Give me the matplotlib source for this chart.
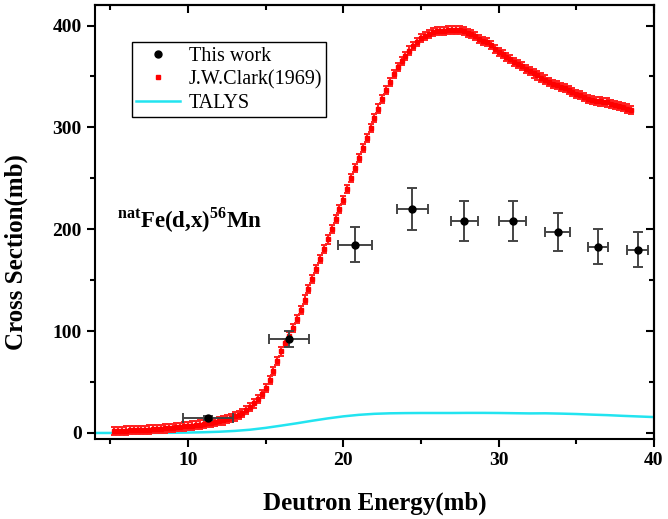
import matplotlib

matplotlib.use("Agg")
import matplotlib.pyplot as plt
from matplotlib.lines import Line2D
from matplotlib.ticker import MultipleLocator

plt.rcParams["font.family"] = ["Liberation Serif", "DejaVu Serif"]
plt.rcParams["mathtext.fontset"] = "custom"
plt.rcParams["mathtext.rm"] = "Liberation Serif:bold"
plt.rcParams["mathtext.bf"] = "Liberation Serif:bold"

# This work: measured cross sections
work_energy = [11.3, 16.5, 20.75, 24.45, 27.8, 30.9, 33.8, 36.4, 38.95]
work_energy_err = [1.6, 1.3, 1.1, 1.0, 0.9, 0.85, 0.8, 0.67, 0.68]
work_xs = [15, 92, 185, 220, 208, 208, 197, 183, 180]
work_xs_err = [2, 8, 17.5, 20.5, 19.5, 19.5, 18.5, 17.5, 17.5]

# J.W. Clark (1969)
clark_energy = [
    5.25, 5.50, 5.75, 6.00, 6.25, 6.50, 6.75, 7.00, 7.25, 7.50, 7.75, 8.00,
    8.25, 8.50, 8.75, 9.00, 9.25, 9.50, 9.75, 10.00, 10.25, 10.50, 10.75, 11.00,
    11.25, 11.50, 11.75, 12.00, 12.25, 12.50, 12.75, 13.00, 13.25, 13.50, 13.75, 14.00,
    14.25, 14.50, 14.75, 15.00, 15.25, 15.50, 15.75, 16.00, 16.25, 16.50, 16.75, 17.00,
    17.25, 17.50, 17.75, 18.00, 18.25, 18.50, 18.75, 19.00, 19.25, 19.50, 19.75, 20.00,
    20.25, 20.50, 20.75, 21.00, 21.25, 21.50, 21.75, 22.00, 22.25, 22.50, 22.75, 23.00,
    23.25, 23.50, 23.75, 24.00, 24.25, 24.50, 24.75, 25.00, 25.25, 25.50, 25.75, 26.00,
    26.25, 26.50, 26.75, 27.00, 27.25, 27.50, 27.75, 28.00, 28.25, 28.50, 28.75, 29.00,
    29.25, 29.50, 29.75, 30.00, 30.25, 30.50, 30.75, 31.00, 31.25, 31.50, 31.75, 32.00,
    32.25, 32.50, 32.75, 33.00, 33.25, 33.50, 33.75, 34.00, 34.25, 34.50, 34.75, 35.00,
    35.25, 35.50, 35.75, 36.00, 36.25, 36.50, 36.75, 37.00, 37.25, 37.50, 37.75, 38.00,
    38.25, 38.50,
]
clark_xs = [
    2.0, 2.1, 2.2, 2.4, 2.5, 2.7, 2.8, 3.0, 3.2, 3.4, 3.6, 3.8,
    4.1, 4.4, 4.7, 5.0, 5.5, 6.0, 6.4, 6.8, 7.3, 7.8, 8.3, 8.8,
    9.5, 10.2, 10.8, 11.5, 12.3, 13.4, 14.6, 16.2, 18.0, 20.0, 22.3, 25.5,
    29.0, 33.0, 38.0, 44.0, 52.0, 61.0, 71.0, 80.0, 88.0, 95.0, 103.0, 112.0,
    121.0, 131.0, 141.0, 151.0, 161.0, 171.0, 180.5, 190.0, 200.0, 210.0, 219.5, 229.0,
    239.5, 250.0, 260.0, 270.0, 280.0, 290.0, 299.5, 309.0, 318.5, 327.5, 336.5, 345.0,
    352.5, 359.5, 365.0, 370.5, 375.5, 380.0, 384.0, 387.5, 390.0, 392.0, 394.0, 394.5,
    395.0, 395.0, 395.5, 395.5, 396.0, 396.0, 394.5, 393.0, 391.5, 389.5, 387.0, 385.0,
    383.5, 380.5, 377.0, 374.0, 372.0, 369.5, 367.0, 364.5, 362.0, 360.0, 357.5, 355.0,
    353.0, 351.0, 349.0, 347.0, 345.0, 343.0, 341.5, 340.0, 338.5, 337.0, 335.0, 333.0,
    331.5, 330.0, 328.0, 326.5, 326.0, 325.5, 325.0, 324.5, 323.0, 322.0, 321.0, 320.0,
    318.5, 317.0,
]
clark_xs_err = 4.0

# TALYS calculation
talys_energy = [
    4, 5, 6, 7, 8, 9, 10, 11, 12, 13, 14, 15, 16, 17, 18, 19, 20, 21, 22,
    23, 24, 25, 26, 27, 28, 29, 30, 31, 32, 33, 34, 35, 36, 37, 38, 39, 40,
]
talys_xs = [
    0.0, 0.0, 0.0, 0.0, 0.1, 0.2, 0.4, 0.7, 1.2, 2.0, 3.2, 5.0, 7.2, 9.5, 12.0,
    14.3, 16.3, 17.8, 18.8, 19.3, 19.5, 19.6, 19.6, 19.6, 19.7, 19.7, 19.6, 19.4,
    19.2, 19.3, 19.0, 18.6, 18.0, 17.5, 16.8, 16.2, 15.6,
]

talys_color = "#22e4f0"

fig = plt.figure(figsize=(6.68, 5.19), dpi=100)
ax = fig.add_axes([0.142, 0.154, 0.837, 0.836])

ax.plot(talys_energy, talys_xs, color=talys_color, lw=1.8, zorder=2)
ax.errorbar(
    clark_energy, clark_xs, yerr=clark_xs_err, fmt="s", color="red",
    ms=3.4, ecolor="#ff2020", elinewidth=1.4, capsize=2, capthick=1.4, zorder=3,
)
ax.errorbar(
    work_energy, work_xs, xerr=work_energy_err, yerr=work_xs_err, fmt="o",
    color="black", ms=5, ecolor="#444444", elinewidth=1.4, capsize=3.5,
    capthick=1.4, zorder=4,
)

ax.set_xlim(4, 40)
ax.set_ylim(-6, 420)
ax.xaxis.set_major_locator(MultipleLocator(10))
ax.xaxis.set_minor_locator(MultipleLocator(5))
ax.yaxis.set_major_locator(MultipleLocator(100))
ax.yaxis.set_minor_locator(MultipleLocator(50))

for side in ax.spines.values():
    side.set_linewidth(1.5)
ax.tick_params(which="both", direction="out", width=1.5, top=False, right=False,
               labelsize=14)
ax.tick_params(which="major", length=6)
ax.tick_params(which="minor", length=3.5)
for label in ax.get_xticklabels() + ax.get_yticklabels():
    label.set_fontweight("bold")

# inward mirror ticks on the top and right sides
sec_x = ax.secondary_xaxis("top")
sec_x.xaxis.set_major_locator(MultipleLocator(10))
sec_x.xaxis.set_minor_locator(MultipleLocator(5))
sec_x.tick_params(which="both", direction="in", width=1.5, labeltop=False)
sec_x.tick_params(which="major", length=6)
sec_x.tick_params(which="minor", length=3.5)
sec_y = ax.secondary_yaxis("right")
sec_y.yaxis.set_major_locator(MultipleLocator(100))
sec_y.yaxis.set_minor_locator(MultipleLocator(50))
sec_y.tick_params(which="both", direction="in", width=1.5, labelright=False)
sec_y.tick_params(which="major", length=6)
sec_y.tick_params(which="minor", length=3.5)
for s in (sec_x, sec_y):
    for side in s.spines.values():
        side.set_linewidth(1.5)

ax.set_xlabel("Deutron Energy(mb)", fontsize=18, fontweight="bold", labelpad=16)
ax.set_ylabel("Cross Section(mb)", fontsize=18, fontweight="bold")
ax.yaxis.set_label_coords(-0.12, 0.43)

ax.text(5.4, 209, r"$^{\rm nat}$Fe(d,x)$^{\rm 56}$Mn", fontsize=16.5,
        fontweight="bold", va="center", ha="left")

handles = [
    Line2D([], [], ls="none", marker="o", color="black", ms=5),
    Line2D([], [], ls="none", marker="s", color="red", ms=3),
    Line2D([], [], color=talys_color, lw=1.8),
]
leg = ax.legend(
    handles, ["This work", "J.W.Clark(1969)", "TALYS"],
    loc="upper left", bbox_to_anchor=(0.066, 0.915), borderaxespad=0,
    fontsize=14.5, fancybox=False, framealpha=1, edgecolor="black",
    handlelength=2.2, handletextpad=0.4, labelspacing=0.22, borderpad=0.22,
)
leg.get_frame().set_linewidth(1.0)

fig.savefig("out.png", dpi=100)
